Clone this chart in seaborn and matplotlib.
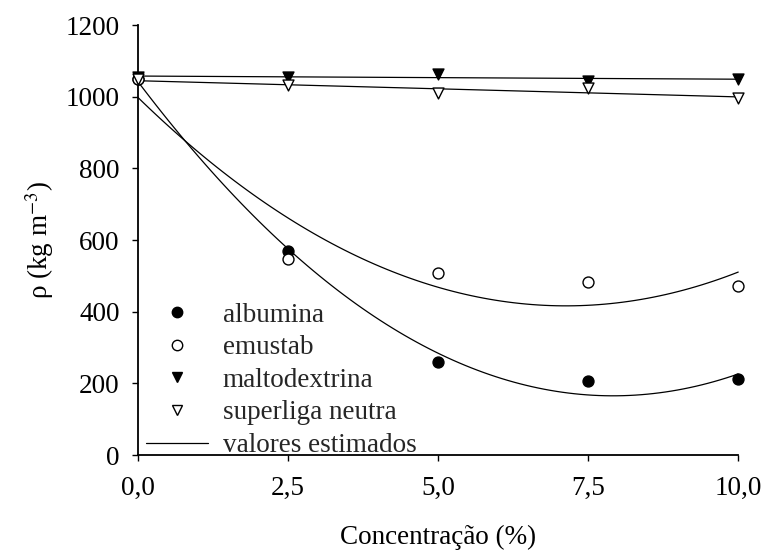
import numpy as np
import pandas as pd
import matplotlib
matplotlib.use("Agg")
import matplotlib.pyplot as plt
import seaborn as sns
from matplotlib.lines import Line2D
from matplotlib.ticker import FuncFormatter

# ---- data ----
concentracao = [0.0, 2.5, 5.0, 7.5, 10.0]
albumina = [1050, 570, 260, 206, 211]
emustab = [1050, 546, 507, 482, 472]
maltodextrina = [1055, 1055, 1063, 1043, 1050]
superliga = [1048, 1032, 1011, 1023, 996]

series_names = ["albumina", "emustab", "maltodextrina", "superliga neutra"]
series_values = [albumina, emustab, maltodextrina, superliga]
fit_order = [2, 2, 1, 1]
x_ticks = [0.0, 2.5, 5.0, 7.5, 10.0]
y_ticks = [0, 200, 400, 600, 800, 1000, 1200]

sns.set_theme(style="ticks")
plt.rcParams["font.family"] = ["Liberation Serif", "DejaVu Serif"]
plt.rcParams["mathtext.fontset"] = "stix"

FS = 19.5
fig = plt.figure(figsize=(7.65, 5.5), dpi=100)
ax = fig.add_axes([0.180, 0.1727, 0.785, 0.7818])

styles = {
    "albumina": dict(marker="o", facecolor="black"),
    "emustab": dict(marker="o", facecolor="white"),
    "maltodextrina": dict(marker="v", facecolor="black"),
    "superliga neutra": dict(marker="v", facecolor="white"),
}

for name, vals, order in zip(series_names, series_values, fit_order):
    df = pd.DataFrame({"x": concentracao, "y": vals})
    sns.regplot(data=df, x="x", y="y", order=order, ci=None, scatter=False,
                truncate=True, ax=ax,
                line_kws=dict(color="black", lw=0.9, clip_on=False))

for name, vals in zip(series_names, series_values):
    st = styles[name]
    ax.scatter(concentracao, vals, s=62, marker=st["marker"],
               facecolor=st["facecolor"], edgecolor="black", linewidths=1.0,
               zorder=5, clip_on=False)

ax.set_xlim(0, 10)
ax.set_ylim(0, 1200)
ax.set_xticks(x_ticks)
ax.set_yticks(y_ticks)
ax.xaxis.set_major_formatter(FuncFormatter(lambda v, p: f"{v:.1f}".replace(".", ",")))
ax.yaxis.set_major_formatter(FuncFormatter(lambda v, p: f"{int(v)}"))
sns.despine(ax=ax)
for sp in ["left", "bottom"]:
    ax.spines[sp].set_linewidth(1.3)
    ax.spines[sp].set_color("black")
ax.tick_params(axis="both", direction="out", length=4, width=1.0, colors="black",
               labelsize=FS)
ax.tick_params(axis="x", pad=11)
ax.tick_params(axis="y", pad=9)

ax.set_xlabel("Concentração (%)", fontsize=FS, color="black")
ax.set_ylabel(r"ρ (kg m$^{-3}$)", fontsize=FS, color="black")
ax.xaxis.set_label_coords(0.5, -0.162)
ax.yaxis.set_label_coords(-0.136, 0.5)

handles = []
for name in series_names:
    st = styles[name]
    handles.append(Line2D([], [], ls="none", marker=st["marker"], ms=7.5,
                          mfc=st["facecolor"], mec="black", mew=1.0))
handles.append(Line2D([], [], color="black", lw=0.9))
labels = series_names + ["valores estimados"]
ax.legend(handles, labels, loc="lower left", bbox_to_anchor=(0.013, -0.007),
          frameon=False, fontsize=FS, borderpad=0, handlelength=2.3,
          handletextpad=0.55, labelspacing=0.28, borderaxespad=0)

fig.savefig("out.png", dpi=100, facecolor="white")
